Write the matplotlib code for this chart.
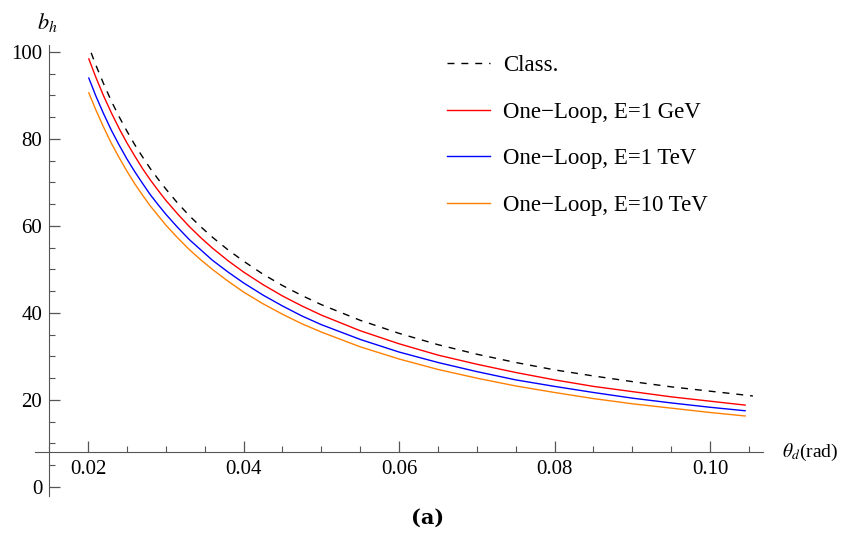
import numpy as np
import matplotlib.pyplot as plt
from matplotlib.ticker import MultipleLocator, FixedLocator

plt.rcParams['font.family'] = ['Liberation Serif', 'DejaVu Serif']
plt.rcParams['mathtext.fontset'] = 'stix'

# 读图得到的数值 (theta 单位 rad)
theta_class = [0.0204, 0.021, 0.022, 0.023, 0.024, 0.025, 0.026, 0.027, 0.028,
               0.029, 0.03, 0.0315, 0.033, 0.0345, 0.036, 0.038, 0.04, 0.0425,
               0.045, 0.0475, 0.05, 0.055, 0.06, 0.065, 0.07, 0.075, 0.08,
               0.085, 0.09, 0.095, 0.1, 0.1055]
b_class = [99.8, 97.0, 92.7, 88.7, 85.1, 81.8, 78.7, 75.9, 73.2,
           70.8, 68.5, 65.3, 62.4, 59.8, 57.4, 54.5, 51.9, 48.9,
           46.3, 44.0, 41.9, 38.3, 35.3, 32.7, 30.5, 28.6, 26.9,
           25.5, 24.2, 23.0, 22.0, 20.9]

theta_loop = [0.0201, 0.021, 0.022, 0.023, 0.024, 0.025, 0.026, 0.027, 0.028,
              0.029, 0.03, 0.0315, 0.033, 0.0345, 0.036, 0.038, 0.04, 0.0425,
              0.045, 0.0475, 0.05, 0.055, 0.06, 0.065, 0.07, 0.075, 0.08,
              0.085, 0.09, 0.095, 0.1, 0.1045]
b_1gev = [98.4, 94.2, 89.9, 86.0, 82.4, 79.1, 76.1, 73.2, 70.6,
          68.2, 65.9, 62.8, 59.9, 57.3, 54.9, 52.0, 49.4, 46.5,
          43.9, 41.6, 39.5, 35.9, 32.9, 30.3, 28.2, 26.3, 24.6,
          23.1, 21.9, 20.7, 19.7, 18.8]
b_1tev = [94.0, 89.9, 85.8, 82.0, 78.6, 75.4, 72.5, 69.8, 67.2,
          64.9, 62.7, 59.7, 56.9, 54.5, 52.1, 49.4, 46.9, 44.1,
          41.6, 39.3, 37.3, 33.9, 31.0, 28.6, 26.5, 24.6, 23.1,
          21.7, 20.4, 19.3, 18.3, 17.5]
b_10tev = [90.6, 86.7, 82.7, 79.0, 75.7, 72.6, 69.7, 67.1, 64.6,
           62.4, 60.2, 57.3, 54.6, 52.2, 50.0, 47.3, 44.8, 42.1,
           39.7, 37.5, 35.6, 32.2, 29.4, 27.0, 25.0, 23.2, 21.7,
           20.3, 19.1, 18.1, 17.1, 16.3]

x_ticks = [0.02, 0.04, 0.06, 0.08, 0.10]
x_ticklabels = ['0.02', '0.04', '0.06', '0.08', '0.10']
y_ticks = [0, 20, 40, 60, 80, 100]

fig = plt.figure(figsize=(8.41, 5.38), dpi=100)
ax = fig.add_axes([35/841, 1-496/538, 728/841, 451/538])

ax.plot(theta_class, b_class, color='black', lw=1.0, dashes=(5, 5), label='Class.')
ax.plot(theta_loop, b_1gev, color='#ff0000', lw=1.0, label='One\u2212Loop, E=1 GeV')
ax.plot(theta_loop, b_1tev, color='#0000ff', lw=1.0, label='One\u2212Loop, E=1 TeV')
ax.plot(theta_loop, b_10tev, color='#ff8000', lw=1.0, label='One\u2212Loop, E=10 TeV')

ax.set_xlim(0.01318, 0.1068)
ax.set_ylim(-2.1, 101.6)

axis_col = '#555555'
for s in ['top', 'right']:
    ax.spines[s].set_visible(False)
ax.spines['left'].set_position(('data', 0.015))
ax.spines['bottom'].set_position(('data', 8.1))
ax.spines['left'].set_color(axis_col)
ax.spines['bottom'].set_color(axis_col)

ax.xaxis.set_major_locator(FixedLocator(x_ticks))
ax.set_xticklabels(x_ticklabels)
ax.xaxis.set_minor_locator(MultipleLocator(0.005))
ax.yaxis.set_major_locator(FixedLocator(y_ticks))
ax.yaxis.set_minor_locator(MultipleLocator(5))

ax.tick_params(axis='both', which='major', direction='in', length=8, width=0.9,
               color=axis_col, labelsize=15)
ax.tick_params(axis='both', which='minor', direction='in', length=4.5, width=0.8,
               color=axis_col)
ax.tick_params(axis='y', which='major', pad=5)
ax.tick_params(axis='x', which='major', pad=6)

fig.text(47/841, 1-22/538, r'$b_h$', fontsize=16, ha='center', va='center')
fig.text(782/841, 1-452/538, r'$\theta_d$(rad)', fontsize=14, ha='left', va='center')
fig.text(428/841, 1-518/538, '(a)', fontsize=15, fontweight='bold', ha='center',
         va='center', family=['DejaVu Serif'])

ax.legend(loc='upper left', bbox_to_anchor=(447/841, 1-55/538),
          bbox_transform=fig.transFigure, frameon=False, fontsize=16.5,
          handlelength=1.88, handletextpad=0.57, labelspacing=1.12,
          borderpad=0, borderaxespad=0)

plt.savefig('out.png', dpi=100)
